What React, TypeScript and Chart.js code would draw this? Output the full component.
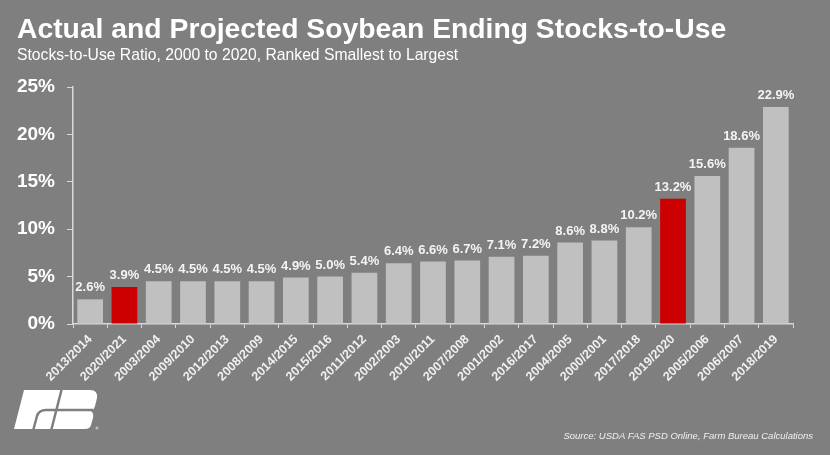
import React, { useEffect, useRef } from "react";
import { Chart, registerables } from "chart.js";

Chart.register(...registerables);

const categories = [
  "2013/2014", "2020/2021", "2003/2004", "2009/2010", "2012/2013", "2008/2009",
  "2014/2015", "2015/2016", "2011/2012", "2002/2003", "2010/2011", "2007/2008",
  "2001/2002", "2016/2017", "2004/2005", "2000/2001", "2017/2018", "2019/2020",
  "2005/2006", "2006/2007", "2018/2019",
];
const stocksToUse = [
  2.6, 3.9, 4.5, 4.5, 4.5, 4.5, 4.9, 5.0, 5.4, 6.4, 6.6, 6.7, 7.1, 7.2, 8.6, 8.8,
  10.2, 13.2, 15.6, 18.6, 22.9,
];
const highlighted = ["2020/2021", "2019/2020"];
const yTicks = [0, 5, 10, 15, 20, 25];

const title = "Actual and Projected Soybean Ending Stocks-to-Use";
const subtitle = "Stocks-to-Use Ratio, 2000 to 2020, Ranked Smallest to Largest";
const source = "Source: USDA FAS PSD Online, Farm Bureau Calculations";

const BG = "#7f7f7f";
const BAR = "#c0c0c0";
const RED = "#cc0000";
const AXIS = "#d9d9d9";

const decorPlugin = {
  id: "decor",
  afterDatasetsDraw(chart: any) {
    const ctx = chart.ctx;
    const meta = chart.getDatasetMeta(0);
    ctx.save();
    ctx.fillStyle = "#f4f4f4";
    ctx.font = "bold 13px 'Liberation Sans', Arial, sans-serif";
    ctx.textAlign = "center";
    ctx.textBaseline = "bottom";
    meta.data.forEach((bar: any, i: number) => {
      ctx.fillText(stocksToUse[i].toFixed(1) + "%", bar.x, bar.y - 5);
    });
    ctx.restore();
  },
  afterDraw(chart: any) {
    const ctx = chart.ctx;
    ctx.save();
    ctx.fillStyle = "#ffffff";
    ctx.textAlign = "left";
    ctx.textBaseline = "alphabetic";
    ctx.font = "bold 28.3px 'Liberation Sans', Arial, sans-serif";
    ctx.fillText(title, 17, 38);
    ctx.font = "15.7px 'Liberation Sans', Arial, sans-serif";
    ctx.fillText(subtitle, 17, 60);
    ctx.font = "italic 9.5px 'Liberation Sans', Arial, sans-serif";
    ctx.fillStyle = "#f0f0f0";
    ctx.textAlign = "right";
    ctx.fillText(source, 813, 439);

    // logo (stylised FB mark)
    ctx.fillStyle = "#ffffff";
    ctx.beginPath();
    ctx.moveTo(24, 390);
    ctx.lineTo(90, 390);
    ctx.quadraticCurveTo(98, 390, 97, 398);
    ctx.lineTo(95, 406);
    ctx.quadraticCurveTo(94, 410, 91, 411);
    ctx.quadraticCurveTo(94, 413, 93, 418);
    ctx.lineTo(91, 425);
    ctx.quadraticCurveTo(90, 429, 85, 429);
    ctx.lineTo(14, 429);
    ctx.closePath();
    ctx.fill();
    ctx.strokeStyle = BG;
    ctx.lineWidth = 2.5;
    ctx.beginPath();
    ctx.moveTo(33, 431);
    ctx.lineTo(37, 416);
    ctx.quadraticCurveTo(39, 410, 46, 410);
    ctx.lineTo(93, 410);
    ctx.stroke();
    ctx.beginPath();
    ctx.moveTo(62, 388);
    ctx.lineTo(51, 431);
    ctx.stroke();
    ctx.fillStyle = "#bfbfbf";
    ctx.beginPath();
    ctx.arc(97, 428, 1.5, 0, Math.PI * 2);
    ctx.fill();
    ctx.restore();
  },
};

export default function App() {
  const ref = useRef<HTMLCanvasElement | null>(null);
  useEffect(() => {
    if (!ref.current) return;
    const chart = new Chart(ref.current, {
      type: "bar",
      data: {
        labels: categories,
        datasets: [
          {
            data: stocksToUse,
            backgroundColor: categories.map((c) => (highlighted.includes(c) ? RED : BAR)),
            barPercentage: 0.75,
            categoryPercentage: 1,
          },
        ],
      },
      options: {
        animation: false,
        responsive: false,
        devicePixelRatio: 1,
        layout: { padding: { top: 87, right: 37, bottom: 71, left: 0 } },
        plugins: { legend: { display: false }, tooltip: { enabled: false } },
        scales: {
          x: {
            grid: { offset: true, drawOnChartArea: false, drawTicks: true, tickLength: 4, color: AXIS },
            border: { color: AXIS, width: 1.5 },
            ticks: {
              color: "#f0f0f0",
              font: { family: "'Liberation Sans', Arial, sans-serif", weight: "bold", size: 12.5 },
              maxRotation: 45,
              minRotation: 45,
              padding: 4,
              autoSkip: false,
            },
            afterFit: (s: any) => {
              s.height = 60;
            },
          },
          y: {
            min: 0,
            max: 25,
            afterBuildTicks: (s: any) => {
              s.ticks = yTicks.map((v) => ({ value: v }));
            },
            grid: { drawOnChartArea: false, drawTicks: true, tickLength: 6, color: AXIS },
            border: { color: AXIS, width: 1.5 },
            ticks: {
              color: "#ffffff",
              font: { family: "'Liberation Sans', Arial, sans-serif", weight: "bold", size: 19 },
              padding: 12,
              callback: (v: any) => v + "%",
            },
            afterFit: (s: any) => {
              s.width = 73;
            },
          },
        },
      },
      plugins: [decorPlugin],
    });
    return () => chart.destroy();
  }, []);
  return (
    <div style={{ position: "fixed", left: 0, top: 0, width: 830, height: 455, background: BG }}>
      <canvas ref={ref} width={830} height={455} />
    </div>
  );
}
